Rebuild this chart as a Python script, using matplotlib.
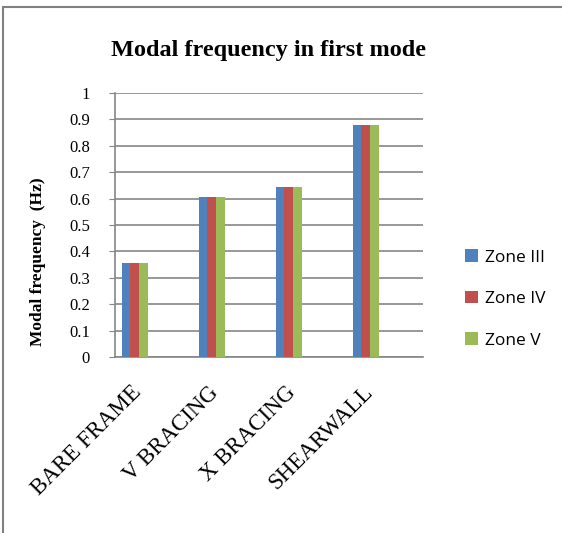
import matplotlib
matplotlib.use("Agg")
import matplotlib.pyplot as plt
import numpy as np
from matplotlib.patches import Rectangle

categories = ['BARE FRAME', 'V BRACING', 'X BRACING', 'SHEARWALL']
zone_iii = [0.355, 0.605, 0.644, 0.878]
zone_iv = [0.355, 0.605, 0.644, 0.878]
zone_v = [0.355, 0.605, 0.644, 0.878]
series_names = ['Zone III', 'Zone IV', 'Zone V']
colors = ['#4f81bd', '#c0504d', '#9bbb59']

serif = 'Liberation Serif'

fig = plt.figure(figsize=(5.62, 5.33), dpi=100)
ax = fig.add_axes([0.2046, 0.3302, 0.5481, 0.4953])

x = np.arange(len(categories))
w = 0.113
for i, (vals, name, c) in enumerate(zip([zone_iii, zone_iv, zone_v], series_names, colors)):
    ax.bar(x + (i - 1) * w, vals, width=w, color=c, label=name, zorder=3)

ax.set_xlim(-0.256, 3.744)
ax.set_ylim(0, 1)
ax.set_yticks(np.arange(0, 1.01, 0.1))
ax.set_yticklabels(['0', '0.1', '0.2', '0.3', '0.4', '0.5', '0.6', '0.7', '0.8', '0.9', '1'],
                   fontfamily=serif, fontsize=12)
ax.set_xticks(x - 0.05)
ax.set_xticklabels(categories, rotation=45, ha='right', rotation_mode='anchor',
                   fontfamily=serif, fontsize=16.5)
ax.tick_params(axis='x', length=0, pad=18)
ax.tick_params(axis='y', length=4, color='#868686', pad=14)
ax.grid(axis='y', color='#868686', linewidth=1.2, zorder=0)
for s in ['top', 'right']:
    ax.spines[s].set_visible(False)
for s in ['left', 'bottom']:
    ax.spines[s].set_color('#868686')
    ax.spines[s].set_linewidth(1.2)

ax.set_ylabel('Modal frequency  (Hz)', fontfamily=serif, fontweight='bold', fontsize=12.5)
ax.yaxis.set_label_coords(-0.225, 0.36)
fig.text(0.477, 0.905, 'Modal frequency in first mode', ha='center', va='center',
         fontfamily=serif, fontweight='bold', fontsize=17.5)

leg = ax.legend(loc='center left', bbox_to_anchor=(1.087, 0.22), frameon=False,
                prop={'family': 'Open Sans', 'size': 12.5}, labelspacing=1.45,
                handlelength=0.75, handleheight=0.75, handletextpad=0.35)

fig.patches.append(Rectangle((0.005, -0.1), 1.2, 1.087, transform=fig.transFigure,
                             fill=False, edgecolor='#808080', linewidth=1.5))

fig.savefig('out.png', dpi=100)
